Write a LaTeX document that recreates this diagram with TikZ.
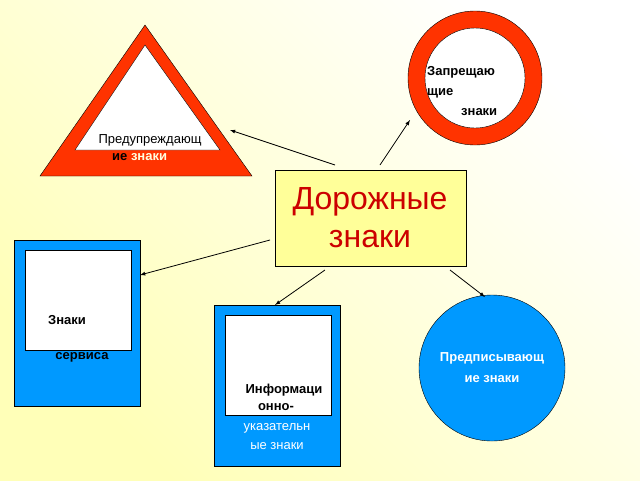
\documentclass[tikz,border=0pt]{standalone}
\usepackage{fontspec}
\setmainfont{Liberation Sans}
\definecolor{signred}{HTML}{FF3300}
\definecolor{signblue}{HTML}{0099FF}
\definecolor{boxyellow}{HTML}{FFFF99}
\begin{document}
\begin{tikzpicture}[x=1pt,y=-1pt,
    txt/.style ={inner sep=0pt, font=\fontsize{13}{15}\selectfont\bfseries},
    arr/.style ={-latex, thick}]
   \shade[top color=white, bottom color=boxyellow!70, shading angle=-45] (0,0) rectangle (640,480);
   \useasboundingbox (0,0) rectangle (640,480);
   % warning sign
   \draw[fill=signred] (40,176) -- (145,25) -- (252,176) -- cycle;
   \draw[fill=white] (75,150) -- (145,45) -- (220,150) -- cycle;
   \node[txt, font=\fontsize{13}{15}\selectfont] (w1) at (150,140) {Предупреждающ};
   \node[txt, anchor=west] (w2) at (112,157) {ие \textcolor{boxyellow!30}{знаки}};
   % prohibition sign
   \draw[fill=signred] (475,78) circle (67);
   \draw[fill=white] (475,78) circle (50);
   \node[txt, anchor=west] (p1) at (427,72) {Запрещаю};
   \node[txt, anchor=west] (p2) at (427,93) {щие};
   \node[txt, anchor=west] (p3) at (461,112) {знаки};
   % centre
   \draw[fill=boxyellow] (275,170) rectangle (466,266);
   \node[text=red!80!black, align=center, font=\fontsize{32}{38}\selectfont] (main) at (370,218) {Дорожные\\знаки};
   % service sign
   \draw[fill=signblue] (14,240) rectangle (140,406);
   \draw[fill=white] (25,250) rectangle (131,350);
   \node[txt] (s1) at (67,320) {Знаки};
   \node[txt] (s2) at (82,357) {сервиса};
   % information sign
   \draw[fill=signblue] (214,305) rectangle (340,466);
   \draw[fill=white] (225,315) rectangle (331,415);
   \node[txt] (i1) at (284,390) {Информаци};
   \node[txt] (i2) at (276,407) {онно-};
   \node[txt, text=white, font=\fontsize{13}{15}\selectfont] (i3) at (277,428) {указательн};
   \node[txt, text=white, font=\fontsize{13}{15}\selectfont] (i4) at (277,446) {ые знаки};
   % mandatory sign
   \draw[fill=signblue] (492,368) circle (73);
   \node[txt, text=white] (m1) at (492,358) {Предписывающ};
   \node[txt, text=white] (m2) at (492,379) {ие знаки};
   % arrows
   \coordinate (a1) at (335,165); \coordinate (b1) at (230,130);
   \coordinate (a2) at (380,165); \coordinate (b2) at (410,120);
   \coordinate (a3) at (270,240); \coordinate (b3) at (140,275);
   \coordinate (a4) at (325,270); \coordinate (b4) at (275,305);
   \coordinate (a5) at (450,270); \coordinate (b5) at (485,297);
   \draw[arr] (a1) -- (b1);
   \draw[arr] (a2) -- (b2);
   \draw[arr] (a3) -- (b3);
   \draw[arr] (a4) -- (b4);
   \draw[arr] (a5) -- (b5);
\end{tikzpicture}
\end{document}
